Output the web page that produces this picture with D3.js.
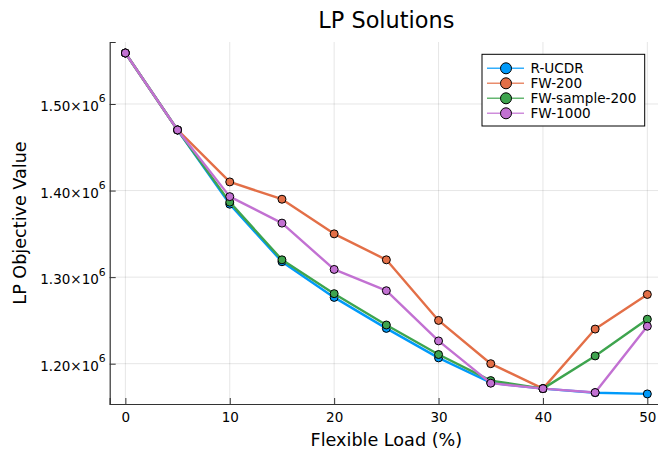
<!DOCTYPE html>
<html>
<head>
<meta charset="utf-8">
<script src="https://cdn.jsdelivr.net/npm/d3@7"></script>
<style>
  html, body { margin: 0; padding: 0; background: #fff; }
  svg { display: block; font-family: "DejaVu Sans", sans-serif; }
</style>
</head>
<body>
<svg id="chart" width="658" height="450"></svg>
<script>
const flexLoad = [0, 5, 10, 15, 20, 25, 30, 35, 40, 45, 50];
const seriesNames = ["R-UCDR", "FW-200", "FW-sample-200", "FW-1000"];
const rUCDR       = [1.5589e6, 1.4700e6, 1.3843e6, 1.3178e6, 1.2766e6, 1.2408e6, 1.2067e6, 1.1780e6, 1.1712e6, 1.1665e6, 1.1651e6];
const fw200       = [1.5589e6, 1.4700e6, 1.4100e6, 1.3900e6, 1.3500e6, 1.3200e6, 1.2500e6, 1.2000e6, 1.1712e6, 1.2400e6, 1.2800e6];
const fwSample200 = [1.5589e6, 1.4700e6, 1.3866e6, 1.3200e6, 1.2809e6, 1.2447e6, 1.2106e6, 1.1805e6, 1.1712e6, 1.2090e6, 1.2514e6];
const fw1000      = [1.5589e6, 1.4700e6, 1.3930e6, 1.3624e6, 1.3089e6, 1.2843e6, 1.2263e6, 1.1775e6, 1.1712e6, 1.1667e6, 1.2433e6];
const xTicks = [0, 10, 20, 30, 40, 50];
const yTicks = [1.2e6, 1.3e6, 1.4e6, 1.5e6];
const yTickLabels = ["1.20×10", "1.30×10", "1.40×10", "1.50×10"];
const colors = ["#009AFA", "#E36F47", "#3EA44E", "#C271D2"];

const allSeries = [rUCDR, fw200, fwSample200, fw1000];

const svg = d3.select("#chart");
const pLeft = 109.7, pRight = 663, pTop = 42, pBottom = 404;

const x = d3.scaleLinear().domain([-1.5, 51.5]).range([pLeft, pRight]);
const y = d3.scaleLinear().domain([1.15345e6, 1.57162e6]).range([pBottom, pTop]);

// grid
const grid = svg.append("g");
grid.selectAll(".vg").data(xTicks).join("line")
  .attr("x1", d => x(d)).attr("x2", d => x(d))
  .attr("y1", pTop).attr("y2", pBottom)
  .attr("stroke", "#000").attr("stroke-opacity", 0.1).attr("stroke-width", 1);
grid.selectAll(".hg").data(yTicks).join("line")
  .attr("x1", pLeft).attr("x2", pRight)
  .attr("y1", d => y(d)).attr("y2", d => y(d))
  .attr("stroke", "#000").attr("stroke-opacity", 0.1).attr("stroke-width", 1);

// x axis
const xAxis = d3.axisBottom(x).tickValues(xTicks).tickSize(-6).tickPadding(12).tickFormat(d3.format("d"));
const gx = svg.append("g").attr("transform", `translate(0,${pBottom})`).call(xAxis);
gx.select(".domain").attr("stroke", "#333").attr("stroke-width", 1.2);
gx.selectAll(".tick line").attr("stroke", "#333").attr("stroke-width", 1);
gx.selectAll(".tick text").attr("font-size", 13.5).attr("fill", "#000")
  .attr("font-family", "DejaVu Sans").attr("dy", 0).attr("y", 18.2);

// y axis
const yAxis = d3.axisLeft(y).tickValues(yTicks).tickSize(-6).tickFormat(() => "");
const gy = svg.append("g").attr("transform", `translate(${pLeft},0)`).call(yAxis);
gy.select(".domain").attr("stroke", "#333").attr("stroke-width", 1.2);
gy.selectAll(".tick line").attr("stroke", "#333").attr("stroke-width", 1);
gy.selectAll(".tick text").remove();
gy.selectAll(".tick").each(function(d) {
  const t = d3.select(this).append("text")
    .attr("x", -4).attr("y", 6.8)
    .attr("text-anchor", "end")
    .attr("font-size", 13.5).attr("fill", "#000")
    .attr("font-family", "DejaVu Sans");
  t.append("tspan").text(yTickLabels[yTicks.indexOf(d)]);
  t.append("tspan").attr("dy", -8.9).attr("font-size", 10.8).text("6");
});

// lines and markers
const line = d3.line().x((d, i) => x(flexLoad[i])).y(d => y(d));
const plot = svg.append("g");
allSeries.forEach((s, k) => {
  plot.append("path").datum(s)
    .attr("d", line)
    .attr("fill", "none")
    .attr("stroke", colors[k])
    .attr("stroke-width", 2.4)
    .attr("stroke-linejoin", "round");
  plot.selectAll(null).data(s).join("circle")
    .attr("cx", (d, i) => x(flexLoad[i]))
    .attr("cy", d => y(d))
    .attr("r", 4)
    .attr("fill", colors[k])
    .attr("stroke", "#000")
    .attr("stroke-width", 1);
});

// title and axis labels
svg.append("text").attr("x", (pLeft + pRight) / 2).attr("y", 27.7)
  .attr("text-anchor", "middle").attr("font-size", 22.4).text("LP Solutions");
svg.append("text").attr("x", (pLeft + pRight) / 2).attr("y", 445.5)
  .attr("text-anchor", "middle").attr("font-size", 17.6).text("Flexible Load (%)");
svg.append("text").attr("transform", `translate(25.5,${(pTop + pBottom) / 2}) rotate(-90)`)
  .attr("text-anchor", "middle").attr("font-size", 17.6).text("LP Objective Value");

// legend
const lg = svg.append("g");
lg.append("rect").attr("x", 482).attr("y", 54.3).attr("width", 162.7).attr("height", 71.7)
  .attr("fill", "#fff").attr("stroke", "#000").attr("stroke-width", 1);
seriesNames.forEach((name, k) => {
  const cy = 68.3 + k * 15;
  lg.append("line").attr("x1", 487).attr("x2", 524).attr("y1", cy).attr("y2", cy)
    .attr("stroke", colors[k]).attr("stroke-width", 1.6).attr("stroke-opacity", 0.8);
  lg.append("circle").attr("cx", 506).attr("cy", cy).attr("r", 5.5)
    .attr("fill", colors[k]).attr("stroke", "#000").attr("stroke-width", 1);
  lg.append("text").attr("x", 530.5).attr("y", cy + 4.8).attr("font-size", 13.6).text(name);
});
</script>
</body>
</html>
